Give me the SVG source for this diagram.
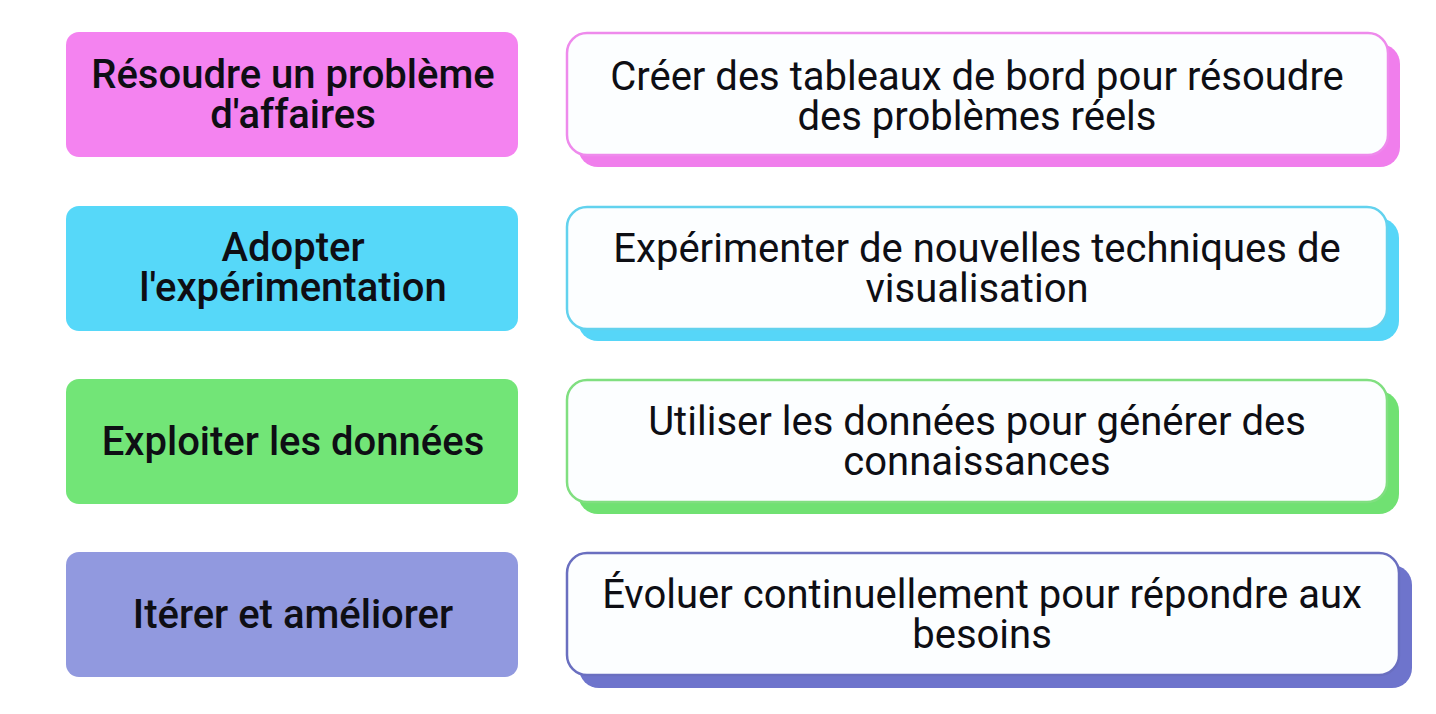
<svg xmlns="http://www.w3.org/2000/svg" width="1436" height="714" viewBox="0 0 1436 714">
<style>
.lt{font-family:Roboto,"Liberation Sans",sans-serif;font-weight:500;font-size:40px;fill:#0E0E14;text-anchor:middle}
.rt{font-family:Roboto,"Liberation Sans",sans-serif;font-weight:400;font-size:40px;fill:#0E0E14;text-anchor:middle}
.card{fill:#FCFEFF;stroke-width:2.5}
</style>
<rect width="1436" height="714" fill="#FFFFFF"/>
<g id="row1-left">
<rect x="66" y="32" width="452" height="125" rx="13" fill="#F483F0"/>
<text class="lt" x="293" y="88">Résoudre un problème</text>
<text class="lt" x="293" y="128">d'affaires</text>
</g>
<g id="row1-right">
<rect x="578" y="44" width="822" height="123" rx="20" fill="#F07EEC"/>
<rect class="card" x="567" y="33" width="821" height="122" rx="20" stroke="#EE8AEC"/>
<text class="rt" x="977" y="90">Créer des tableaux de bord pour résoudre</text>
<text class="rt" x="977" y="130">des problèmes réels</text>
</g>
<g id="row2-left">
<rect x="66" y="206" width="452" height="125" rx="13" fill="#56D8F9"/>
<text class="lt" x="293" y="261">Adopter</text>
<text class="lt" x="293" y="301">l'expérimentation</text>
</g>
<g id="row2-right">
<rect x="578" y="218" width="821" height="123" rx="20" fill="#56D6F8"/>
<rect class="card" x="567" y="207" width="820" height="122" rx="20" stroke="#62D2EE"/>
<text class="rt" x="977" y="262">Expérimenter de nouvelles techniques de</text>
<text class="rt" x="977" y="302">visualisation</text>
</g>
<g id="row3-left">
<rect x="66" y="379" width="452" height="125" rx="13" fill="#72E577"/>
<text class="lt" x="293" y="455">Exploiter les données</text>
</g>
<g id="row3-right">
<rect x="578" y="391" width="821" height="123" rx="20" fill="#70E172"/>
<rect class="card" x="567" y="380" width="820" height="122" rx="20" stroke="#80DF80"/>
<text class="rt" x="977" y="435">Utiliser les données pour générer des</text>
<text class="rt" x="977" y="475">connaissances</text>
</g>
<g id="row4-left">
<rect x="66" y="552" width="452" height="125" rx="13" fill="#9199DF"/>
<text class="lt" x="293" y="628">Itérer et améliorer</text>
</g>
<g id="row4-right">
<rect x="579" y="565" width="833" height="123" rx="20" fill="#6E74CC"/>
<rect class="card" x="567" y="553" width="832" height="122" rx="20" stroke="#6A6FC0"/>
<text class="rt" x="982" y="608">Évoluer continuellement pour répondre aux</text>
<text class="rt" x="982" y="648">besoins</text>
</g>
<g id="connectors"></g>
</svg>
